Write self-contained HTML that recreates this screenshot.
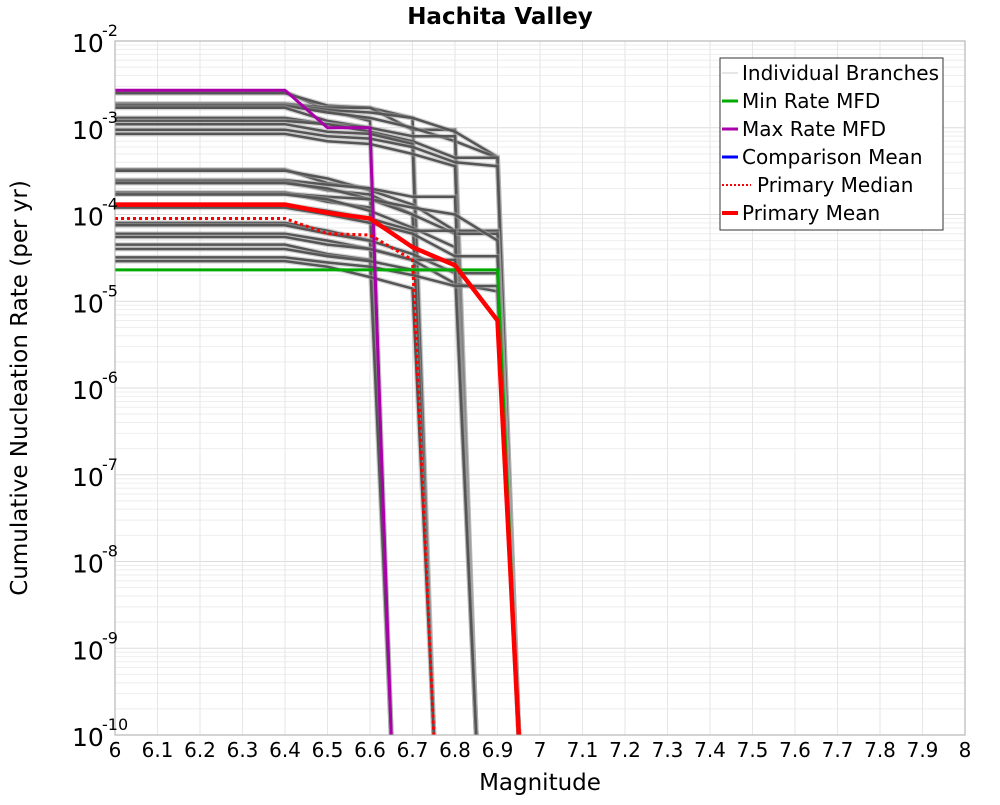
<!DOCTYPE html>
<html><head><meta charset="utf-8"><style>
body{margin:0;background:#fff;width:1000px;height:800px;overflow:hidden}
svg text{font-family:"DejaVu Sans","Liberation Sans",sans-serif}
</style></head><body>
<svg id="chart" width="1000" height="800" xmlns="http://www.w3.org/2000/svg">
<text x="500" y="24" text-anchor="middle" font-size="23" font-weight="bold">Hachita Valley</text>
<g id="grid"></g>
<g id="branches"></g>
<g id="main"></g>
<rect x="115" y="41" width="850" height="694" fill="none" stroke="#aaa" stroke-width="1"/>
<g id="ticks"></g>
<text x="540" y="790" text-anchor="middle" font-size="23">Magnitude</text>
<text transform="translate(27,388) rotate(-90)" text-anchor="middle" font-size="23">Cumulative Nucleation Rate (per yr)</text>
<g>
<rect x="720" y="58" width="223" height="172" fill="#fff" stroke="#333" stroke-width="1"/>
<g><line x1="722" x2="738" y1="73" y2="73" stroke="#ccc" stroke-width="1"/><text x="742" y="80" font-size="20">Individual Branches</text></g>
<g><line x1="722" x2="738" y1="101" y2="101" stroke="#00aa00" stroke-width="3"/><text x="742" y="108" font-size="20">Min Rate MFD</text></g>
<g><line x1="722" x2="738" y1="129" y2="129" stroke="#aa00aa" stroke-width="3"/><text x="742" y="136" font-size="20">Max Rate MFD</text></g>
<g><line x1="722" x2="738" y1="157" y2="157" stroke="#0000ff" stroke-width="3"/><text x="742" y="164" font-size="20">Comparison Mean</text></g>
<g><line x1="722" x2="751" y1="185" y2="185" stroke="#f00" stroke-width="2" stroke-dasharray="2,2"/><text x="757" y="192" font-size="20">Primary Median</text></g>
<g><line x1="722" x2="738" y1="213" y2="213" stroke="#f00" stroke-width="4"/><text x="742" y="220" font-size="20">Primary Mean</text></g>
</g>
</svg>
<script>
const xTicks=[6,6.1,6.2,6.3,6.4,6.5,6.6,6.7,6.8,6.9,7,7.1,7.2,7.3,7.4,7.5,7.6,7.7,7.8,7.9,8];
const yExps=[-2,-3,-4,-5,-6,-7,-8,-9,-10];
const mags=[6.0,6.4,6.5,6.6,6.7,6.8,6.9];
// each branch: values at mags (truncated); then drops to 1e-10 at last mag + 0.05
const branches=[
[2.6e-3,2.6e-3,1.6e-3,1.2e-3],
[2.5e-3,2.5e-3,1.8e-3,1.7e-3,1.3e-3],
[1.9e-3,1.9e-3,1.7e-3,1.7e-3,9.5e-4,9.5e-4],
[1.85e-3,1.85e-3,1.6e-3,1.5e-3,1.3e-3,9e-4,4.6e-4],
[1.8e-3,1.8e-3,1.5e-3,1.3e-3,1.0e-3,7e-4,4.5e-4],
[1.7e-3,1.7e-3,1.2e-3,1.0e-3],
[1.3e-3,1.3e-3,1.1e-3,1.0e-3,8e-4,8e-4],
[1.2e-3,1.2e-3,1.1e-3,9e-4,7e-4,4.5e-4,4.5e-4],
[1.1e-3,1.1e-3,9e-4,8.5e-4,6.5e-4],
[9.5e-4,9.5e-4,8e-4,7.5e-4,6e-4,4e-4,3.6e-4],
[8.5e-4,8.5e-4,7e-4,6.5e-4,5e-4,3.6e-4],
[3.3e-4,3.3e-4,2.3e-4,2.0e-4],
[3.2e-4,3.2e-4,2.6e-4,1.9e-4,1.3e-4,6.5e-5,6.5e-5],
[2.5e-4,2.5e-4,2.2e-4,2.0e-4,1.6e-4,1.6e-4],
[2.4e-4,2.4e-4,1.9e-4,1.7e-4,1.0e-4],
[2.3e-4,2.3e-4,2.0e-4,1.5e-4,1.0e-4,6e-5,6e-5],
[1.8e-4,1.8e-4,1.4e-4,1.2e-4],
[1.75e-4,1.75e-4,1.6e-4,1.5e-4,1.2e-4,1.0e-4,5e-5],
[1.7e-4,1.7e-4,1.5e-4,1.1e-4,7e-5,4.2e-5],
[1.3e-4,1.3e-4,1.1e-4,9e-5,6.5e-5,6.5e-5],
[1.2e-4,1.2e-4,1.0e-4,8e-5,6e-5,3.3e-5,3.3e-5],
[8e-5,8e-5,6.5e-5,5e-5],
[7.5e-5,7.5e-5,6e-5,5e-5,3.5e-5,2.1e-5,2.1e-5],
[6e-5,6e-5,5e-5,4e-5,3e-5,3e-5],
[5.5e-5,5.5e-5,4.5e-5,4e-5,3e-5,1.6e-5,1.3e-5],
[4.5e-5,4.5e-5,3.5e-5,3e-5],
[4e-5,4e-5,3.3e-5,2.9e-5,2.3e-5,2.3e-5],
[3.2e-5,3.2e-5,2.8e-5,2.5e-5,2e-5,1.5e-5,1.5e-5],
[2.9e-5,2.9e-5,2.5e-5,1.9e-5,1.4e-5]
];
const minVals=[2.3e-5,2.3e-5,2.3e-5,2.3e-5,2.3e-5,2.3e-5,2.3e-5];
const maxVals=[2.7e-3,2.7e-3,1.0e-3,1.0e-3];
const meanVals=[1.3e-4,1.3e-4,1.05e-4,9e-5,4.2e-5,2.6e-5,6e-6];
const medianVals=[9e-5,9e-5,6e-5,5.8e-5,3e-5];

const NS="http://www.w3.org/2000/svg";
const X=m=>115+(m-6)*425;
const Y=v=>41+(-2-Math.log10(v))*86.75;
function mk(tag,attrs,parent){const e=document.createElementNS(NS,tag);for(const k in attrs)e.setAttribute(k,attrs[k]);parent.appendChild(e);return e;}
function pts(vals){const p=vals.map((v,i)=>[X(mags[i]),Y(v)]);const last=mags[vals.length-1]+0.05;p.push([X(last),Y(1e-10)]);return p.map(q=>q[0].toFixed(1)+","+q[1].toFixed(1)).join(" ");}

const grid=document.getElementById('grid');
for(let e=-10;e<-2;e++){for(let k=1;k<10;k++){const y=Y(k*Math.pow(10,e));
const l=mk('line',{x1:115,x2:965,y1:y,y2:y,stroke:k===1?'#ddd':'#eee','stroke-width':1},grid);

}}
xTicks.forEach(m=>{const l=mk('line',{x1:X(m),x2:X(m),y1:41,y2:735,stroke:'#e6e6e6','stroke-width':1},grid);

});

const bg=document.getElementById('branches');
branches.forEach((b,i)=>{
const l1=mk('polyline',{points:pts(b),fill:'none',stroke:'#aaa','stroke-width':5,'stroke-opacity':0.5},bg);


const l=mk('polyline',{points:pts(b),fill:'none',stroke:'#555','stroke-width':2.5},bg);


});
const mg=document.getElementById('main');
const series=[[minVals,'#00aa00',3,null,'min-rate-line'],[maxVals,'#aa00aa',3,null,'max-rate-line'],[medianVals,'#f00',3,'3,3','primary-median-line'],[meanVals,'#f00',4.5,null,'primary-mean-line']];
series.forEach(s=>{const a={points:pts(s[0]),fill:'none',stroke:s[1],'stroke-width':s[2]};if(s[3])a['stroke-dasharray']=s[3];
const l=mk('polyline',a,mg);

});

const tg=document.getElementById('ticks');
xTicks.forEach(m=>{const t=mk('text',{x:X(m),y:757,'text-anchor':'middle','font-size':20},tg);t.textContent=String(m);

});
yExps.forEach(e=>{const y=Y(Math.pow(10,e));const t=mk('text',{x:72,y:y+11,'font-size':25},tg);t.textContent='10';


const s=mk('text',{x:102,y:y-5,'font-size':16},tg);s.textContent=String(e);

});
</script>
</body></html>
